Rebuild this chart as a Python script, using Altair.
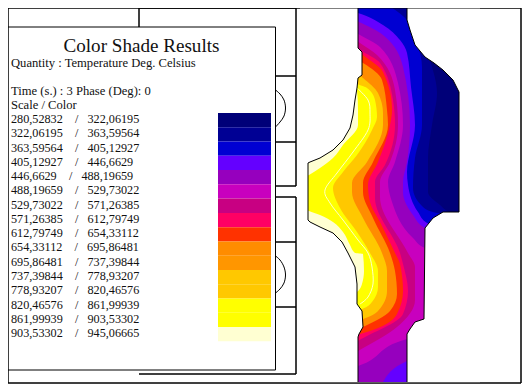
import altair as alt
import pandas as pd

NBSP = "\u00a0"
LOWER = ["280,52832","322,06195","363,59564","405,12927","446,6629","488,19659","529,73022","571,26385",
         "612,79749","654,33112","695,86481","737,39844","778,93207","820,46576","861,99939","903,53302"]
UPPER = ["322,06195","363,59564","405,12927","446,6629","488,19659","529,73022","571,26385","612,79749",
         "654,33112","695,86481","737,39844","778,93207","820,46576","861,99939","903,53302","945,06665"]
SHADES = ["#000078","#000094","#0000d2","#6400ff","#9600be","#c800be","#c80082","#ff0064",
          "#ff3200","#ff8c00","#ff9600","#ffc800","#ffc800","#ffff00","#ffff00","#ffffd2"]
# contour positions: (y, x) along each band's hot-side edge
EDGE_1 = [(0,400),(20,415),(60,430),(93,437),(125,432),(158,428),(192,428),(205,440),(212,450),(216,480),(382,480)]
EDGE_2 = [(0,380),(20,407),(43,417),(67,422),(125,422),(158,415),(188,413),(207,423),(213,437),(216,480),(382,480)]
EDGE_3 = [(0,300),(13,358),(25,383),(40,400),(53,407),(87,411),(125,415),(172,407),(185,408),(212,418),(223,427),(229,480),(382,480)]
EDGE_4 = [(0,300),(22,359),(35,383),(67,403),(125,410),(162,407),(182,403),(192,403),(215,413),(228,425),(232,480),(358,480),(361,407),(382,383)]
EDGE_5 = [(0,300),(35,360),(47,380),(83,398),(125,403),(162,395),(182,388),(202,392),(238,413),(248,425),(252,480),(336,480),(339,407),(366,358),(382,300)]
EDGE_6 = [(0,300),(43,360),(55,377),(90,395),(125,398),(162,390),(182,380),(197,380),(253,408),(267,415),(300,415),(327,397),(351,358),(382,300)]
EDGE_7 = [(0,300),(50,360),(63,380),(100,393),(125,395),(165,385),(182,375),(198,375),(253,400),(264,403),(291,408),(314,403),(341,358),(382,300)]
EDGE_8 = [(0,300),(55,363),(72,383),(110,392),(125,390),(162,378),(185,368),(202,370),(222,380),(253,395),(264,400),(291,403),(314,397),(334,360),(345,300),(382,300)]
EDGE_9 = [(0,300),(60,358),(63,363),(80,382),(110,387),(125,388),(162,373),(183,363),(192,363),(218,373),(253,390),(271,395),(294,397),(311,390),(327,363),(335,345),(382,300)]
EDGE_11 = [(0,300),(74,358),(78,363),(93,378),(113,383),(125,383),(162,367),(183,352),(192,352),(218,363),(253,382),(271,387),(291,387),(311,378),(319,363),(325,340),(382,300)]
EDGE_13 = [(0,300),(83,355),(88,367),(100,375),(117,377),(130,372),(155,357),(172,343),(188,333),(208,340),(232,357),(253,370),(271,378),(287,378),(302,372),(309,362),(314,340),(382,300)]
EDGE_15 = [(0,300),(88,352),(90,357),(110,358),(125,358),(145,343),(158,333),(168,320),(175,309),(180,300),(205,300),(211,309),(215,320),(222,333),(232,343),(245,350),(253,355),(254,363),(271,364),(284,362),(292,357),(296,340),(382,300)]
THIN_LINE = [(88,357),(100,368),(113,370),(130,368),(152,353),(173,337),(190,325),(203,330),(220,343),(240,358),(253,368),(267,372),(284,373),(297,368),(304,360)]
OUTLINE_L = [(0,358),(48,358),(50,360),(52,362),(75,362),(78,358),(88,357),(100,355),(115,353),(128,350),(140,343),(150,333),(158,320),(162,310),(163,308),(220,308),(222,310),(227,320),(233,333),(242,342),(253,348),(267,355),(284,357),(304,357),(311,362),(327,363),(334,359),(337,358),(382,358)]
OUTLINE_R = [(0,407),(20,407),(30,410),(45,415),(57,425),(63,434),(70,443),(80,453),(92,459),(212,459),(212,443),(218,433),(228,425),(319,424),(322,415),(329,410),(334,407),(382,407)]
ARC_TOP = [(90,275.5),(94,280),(100,284),(108,285.5),(116,284),(122,280),(127,275.5)]
ARC_BOT = [(256,275.5),(260,280),(267,284),(275,285.5),(283,284),(289,280),(293,275.5)]
RIGHT = 521
RULES = [(8,8,8,383),(8,RIGHT,8,8),(RIGHT,RIGHT,8,383),(8,RIGHT,383,383),
         (139,139,8,27),(139,296,8,8),(296,296,8,186),(296,296,197,374),(139,296,374,374),
         (275,296,76,76),(275,296,142,142),(275,296,186,186),(275,296,197,197),(275,296,242,242),(275,296,307,307)]
PANEL = (8,275.5,27,370)
TITLE = "Color Shade Results"
HEADS = ["Quantity : Temperature Deg. Celsius","Time (s.) : 3 Phase (Deg): 0","Scale / Color"]
HEAD_Y = [67,95,109]
ROW_Y0, ROW_STEP = 123, 14.27
SWATCH_Y0, SWATCH_STEP = 113, 14.27

X = alt.Scale(domain=[8,522], range=[0,514], nice=False, zero=False)
Y = alt.Scale(domain=[8,384], range=[0,376], nice=False, zero=False)
xq = lambda f="x": alt.X(f+":Q", scale=X, axis=None)
yq = lambda f="y": alt.Y(f+":Q", scale=Y, axis=None)

def frame(pairs, base=None):
    return pd.DataFrame([{"i":i,"y":p[0],"x":p[1],"x0":base} for i,p in enumerate(pairs)])

def fill(pairs, color, base=300, curve="linear"):
    return alt.Chart(frame(pairs, base)).mark_area(orient="horizontal", color=color, interpolate=curve).encode(
        x=xq(), x2="x0:Q", y=yq())

def stroke(pairs, color="black", w=1, curve="linear"):
    return alt.Chart(frame(pairs)).mark_line(color=color, strokeWidth=w, interpolate=curve).encode(
        x=xq(), y=yq(), order=alt.Order("i:Q"))

def bar(x, x2, y, y2, **kw):
    return alt.Chart(pd.DataFrame([dict(x=x,x2=x2,y=y,y2=y2)])).mark_rect(**kw).encode(
        x=xq(), x2="x2:Q", y=yq(), y2="y2:Q")

layers = []
rules = pd.DataFrame(RULES, columns=["x","x2","y","y2"])
rule_layer = alt.Chart(rules).mark_rule(color="black", strokeWidth=1).encode(x=xq(), x2="x2:Q", y=yq(), y2="y2:Q")
layers.append(rule_layer)
layers += [stroke(ARC_TOP, curve="cardinal"), stroke(ARC_BOT, curve="cardinal")]
layers.append(bar(*PANEL, fill="white", stroke="black", strokeWidth=1))

# field, painted from cold to hot
layers.append(fill([(0,470),(382,470)], SHADES[0]))
for edge, k in [(EDGE_1,1),(EDGE_2,2),(EDGE_3,3),(EDGE_4,4),(EDGE_5,5),(EDGE_6,6),(EDGE_7,7),(EDGE_8,8),(EDGE_9,9),(EDGE_11,11),(EDGE_13,13),(EDGE_15,15)]:
    layers.append(fill(edge, SHADES[k], curve="monotone"))
layers.append(stroke(THIN_LINE, "#ffffc8", 1, "cardinal"))
layers.append(fill(OUTLINE_L, "white"))
layers.append(fill(OUTLINE_R, "white", 480))
layers.append(bar(300, 480, 382.5, 383, color="white"))
layers += [stroke(OUTLINE_L), stroke(OUTLINE_R)]
layers.append(rule_layer)

# legend
sw = pd.DataFrame({"band":LOWER})
sw["y"] = [SWATCH_Y0+i*SWATCH_STEP for i in range(16)]
sw["y2"] = sw["y"]+SWATCH_STEP
sw["x"] = 218; sw["x2"] = 271
layers.append(alt.Chart(sw).mark_rect(strokeWidth=0).encode(x=xq(), x2="x2:Q", y=yq(), y2="y2:Q",
    color=alt.Color("band:N", scale=alt.Scale(domain=LOWER, range=SHADES), legend=None)))
rows = pd.DataFrame({"t":[a+NBSP*4+"/"+NBSP*3+b for a,b in zip(LOWER,UPPER)]})
rows["y"] = [ROW_Y0+i*ROW_STEP for i in range(16)]
rows["x"] = 11
heads = pd.DataFrame({"t":HEADS,"y":HEAD_Y,"x":11})
for d, s in ((rows,12.2), (heads,12.6)):
    layers.append(alt.Chart(d).mark_text(align="left", baseline="alphabetic", font="Liberation Serif", fontSize=s, color="#111111").encode(
        x=xq(), y=yq(), text="t:N"))
layers.append(alt.Chart(pd.DataFrame({"t":[TITLE],"x":[141.5],"y":[52]})).mark_text(align="center", baseline="alphabetic", font="Liberation Serif", fontSize=19.1, color="#111111").encode(
    x=xq(), y=yq(), text="t:N"))

chart = alt.layer(*layers).properties(width=514, height=376, padding=0, autosize=alt.AutoSizeParams(type="none"), background="white").configure_view(stroke=None)
chart.save("out.html", embed_options={"renderer": "svg", "actions": False})
